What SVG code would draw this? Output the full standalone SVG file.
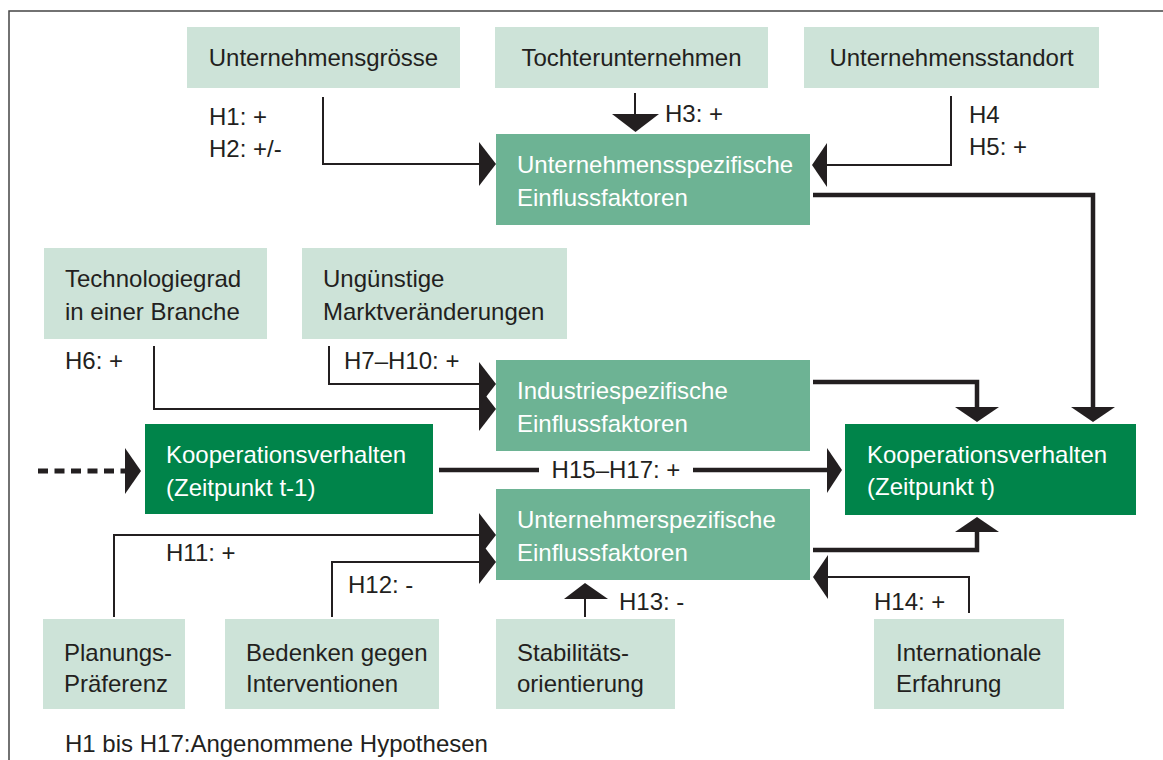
<svg xmlns="http://www.w3.org/2000/svg" width="1163" height="760" viewBox="0 0 1163 760">
<style>
text{font-family:"Liberation Sans",Arial,sans-serif;font-size:24px;fill:#231f20}
.w{fill:#ffffff}
.lt{fill:#cde3d8}
.md{fill:#6db394}
.dk{fill:#00844a}
.thin{fill:none;stroke:#231f20;stroke-width:2}
.thick{fill:none;stroke:#231f20;stroke-width:4.5}
.dash{fill:none;stroke:#231f20;stroke-width:5;stroke-dasharray:10 6.5}
.ah{fill:#231f20}
.frame{fill:none;stroke:#444;stroke-width:1.5}
</style>
<path class="frame" d="M9,812 V11 H1163"/>
<g id="n1"><rect class="lt" x="187" y="27" width="273" height="61"/><text x="323.5" y="66" text-anchor="middle">Unternehmensgrösse</text></g>
<g id="n2"><rect class="lt" x="495" y="27" width="273" height="61"/><text x="631.5" y="66" text-anchor="middle">Tochterunternehmen</text></g>
<g id="n3"><rect class="lt" x="804" y="27" width="295" height="61"/><text x="951.5" y="66" text-anchor="middle">Unternehmensstandort</text></g>
<g id="n4"><rect class="lt" x="44" y="248" width="223" height="91"/><text x="65" y="287">Technologiegrad</text><text x="65" y="319.5">in einer Branche</text></g>
<g id="n5"><rect class="lt" x="302" y="248" width="265" height="91"/><text x="323" y="287">Ungünstige</text><text x="323" y="319.5">Marktveränderungen</text></g>
<g id="n6"><rect class="lt" x="43" y="619" width="142" height="90"/><text x="64" y="661">Planungs-</text><text x="64" y="692">Präferenz</text></g>
<g id="n7"><rect class="lt" x="225" y="619" width="214" height="90"/><text x="246" y="661">Bedenken gegen</text><text x="246" y="692">Interventionen</text></g>
<g id="n8"><rect class="lt" x="496" y="619" width="179" height="90"/><text x="517" y="661">Stabilitäts-</text><text x="517" y="692">orientierung</text></g>
<g id="n9"><rect class="lt" x="874" y="619" width="190" height="90"/><text x="896" y="661">Internationale</text><text x="896" y="692">Erfahrung</text></g>
<g id="n10"><rect class="md" x="496" y="134" width="314" height="91"/><text class="w" x="517" y="173">Unternehmensspezifische</text><text class="w" x="517" y="206">Einflussfaktoren</text></g>
<g id="n11"><rect class="md" x="496" y="360" width="314" height="91"/><text class="w" x="517" y="399">Industriespezifische</text><text class="w" x="517" y="432">Einflussfaktoren</text></g>
<g id="n12"><rect class="md" x="496" y="489" width="314" height="91"/><text class="w" x="517" y="528">Unternehmerspezifische</text><text class="w" x="517" y="561">Einflussfaktoren</text></g>
<g id="n13"><rect class="dk" x="145" y="424" width="288" height="90"/><text class="w" x="166" y="463">Kooperationsverhalten</text><text class="w" x="166" y="496">(Zeitpunkt t-1)</text></g>
<g id="n14"><rect class="dk" x="845" y="424" width="291" height="91"/><text class="w" x="867" y="463">Kooperationsverhalten</text><text class="w" x="867" y="495">(Zeitpunkt t)</text></g>
<g id="connectors">
<polyline class="thin" points="323,97 323,164 480,164"/><polygon class="ah" points="479,142 496,164 479,186"/>
<line class="thin" x1="635" y1="93" x2="635" y2="115"/><polygon class="ah" points="612,114 659,114 635.5,132"/>
<polyline class="thin" points="951,96 951,165 826,165"/><polygon class="ah" points="827,143 812,165 827,187"/>
<polyline class="thin" points="154,346 154,409 480,409"/><polygon class="ah" points="479,387 496,409 479,431"/>
<polyline class="thin" points="329,346 329,384 480,384"/><polygon class="ah" points="479,362 496,384 479,406"/>
<polyline class="thin" points="114,617 114,535 480,535"/><polygon class="ah" points="479,513 496,535 479,557"/>
<polyline class="thin" points="332,617 332,562 480,562"/><polygon class="ah" points="479,540 496,562 479,584"/>
<line class="thin" x1="585" y1="617" x2="585" y2="598"/><polygon class="ah" points="564,599 608,599 585,583"/>
<polyline class="thin" points="969,613 969,577 828,577"/><polygon class="ah" points="828,555 813,577 828,599"/>
<polyline class="thick" points="813,195 1093,195 1093,408"/><polygon class="ah" points="1071,407 1115,407 1093,422"/>
<polyline class="thick" points="813,382 977,382 977,408"/><polygon class="ah" points="955,407 999,407 977,422"/>
<polyline class="thick" points="813,550 977,550 977,531"/><polygon class="ah" points="955,532 999,532 977,517"/>
<line class="thick" x1="439" y1="470" x2="539" y2="470"/><line class="thick" x1="693" y1="470" x2="828" y2="470"/><polygon class="ah" points="827,448 842,470 827,493"/>
<line class="dash" x1="38" y1="471" x2="125" y2="471"/><polygon class="ah" points="125,448 141,471 125,494"/>
</g>
<g id="labels">
<text x="209" y="125">H1: +</text>
<text x="209" y="157">H2: +/-</text>
<text x="665" y="122">H3: +</text>
<text x="969" y="123">H4</text>
<text x="969" y="155">H5: +</text>
<text x="65" y="369">H6: +</text>
<text x="344" y="369">H7–H10: +</text>
<text x="166" y="561">H11: +</text>
<text x="348" y="593">H12: -</text>
<text x="619" y="610">H13: -</text>
<text x="874" y="610">H14: +</text>
<text x="616" y="478" text-anchor="middle">H15–H17: +</text>
<text x="65" y="752">H1 bis H17:Angenommene Hypothesen</text>
</g>
</svg>
